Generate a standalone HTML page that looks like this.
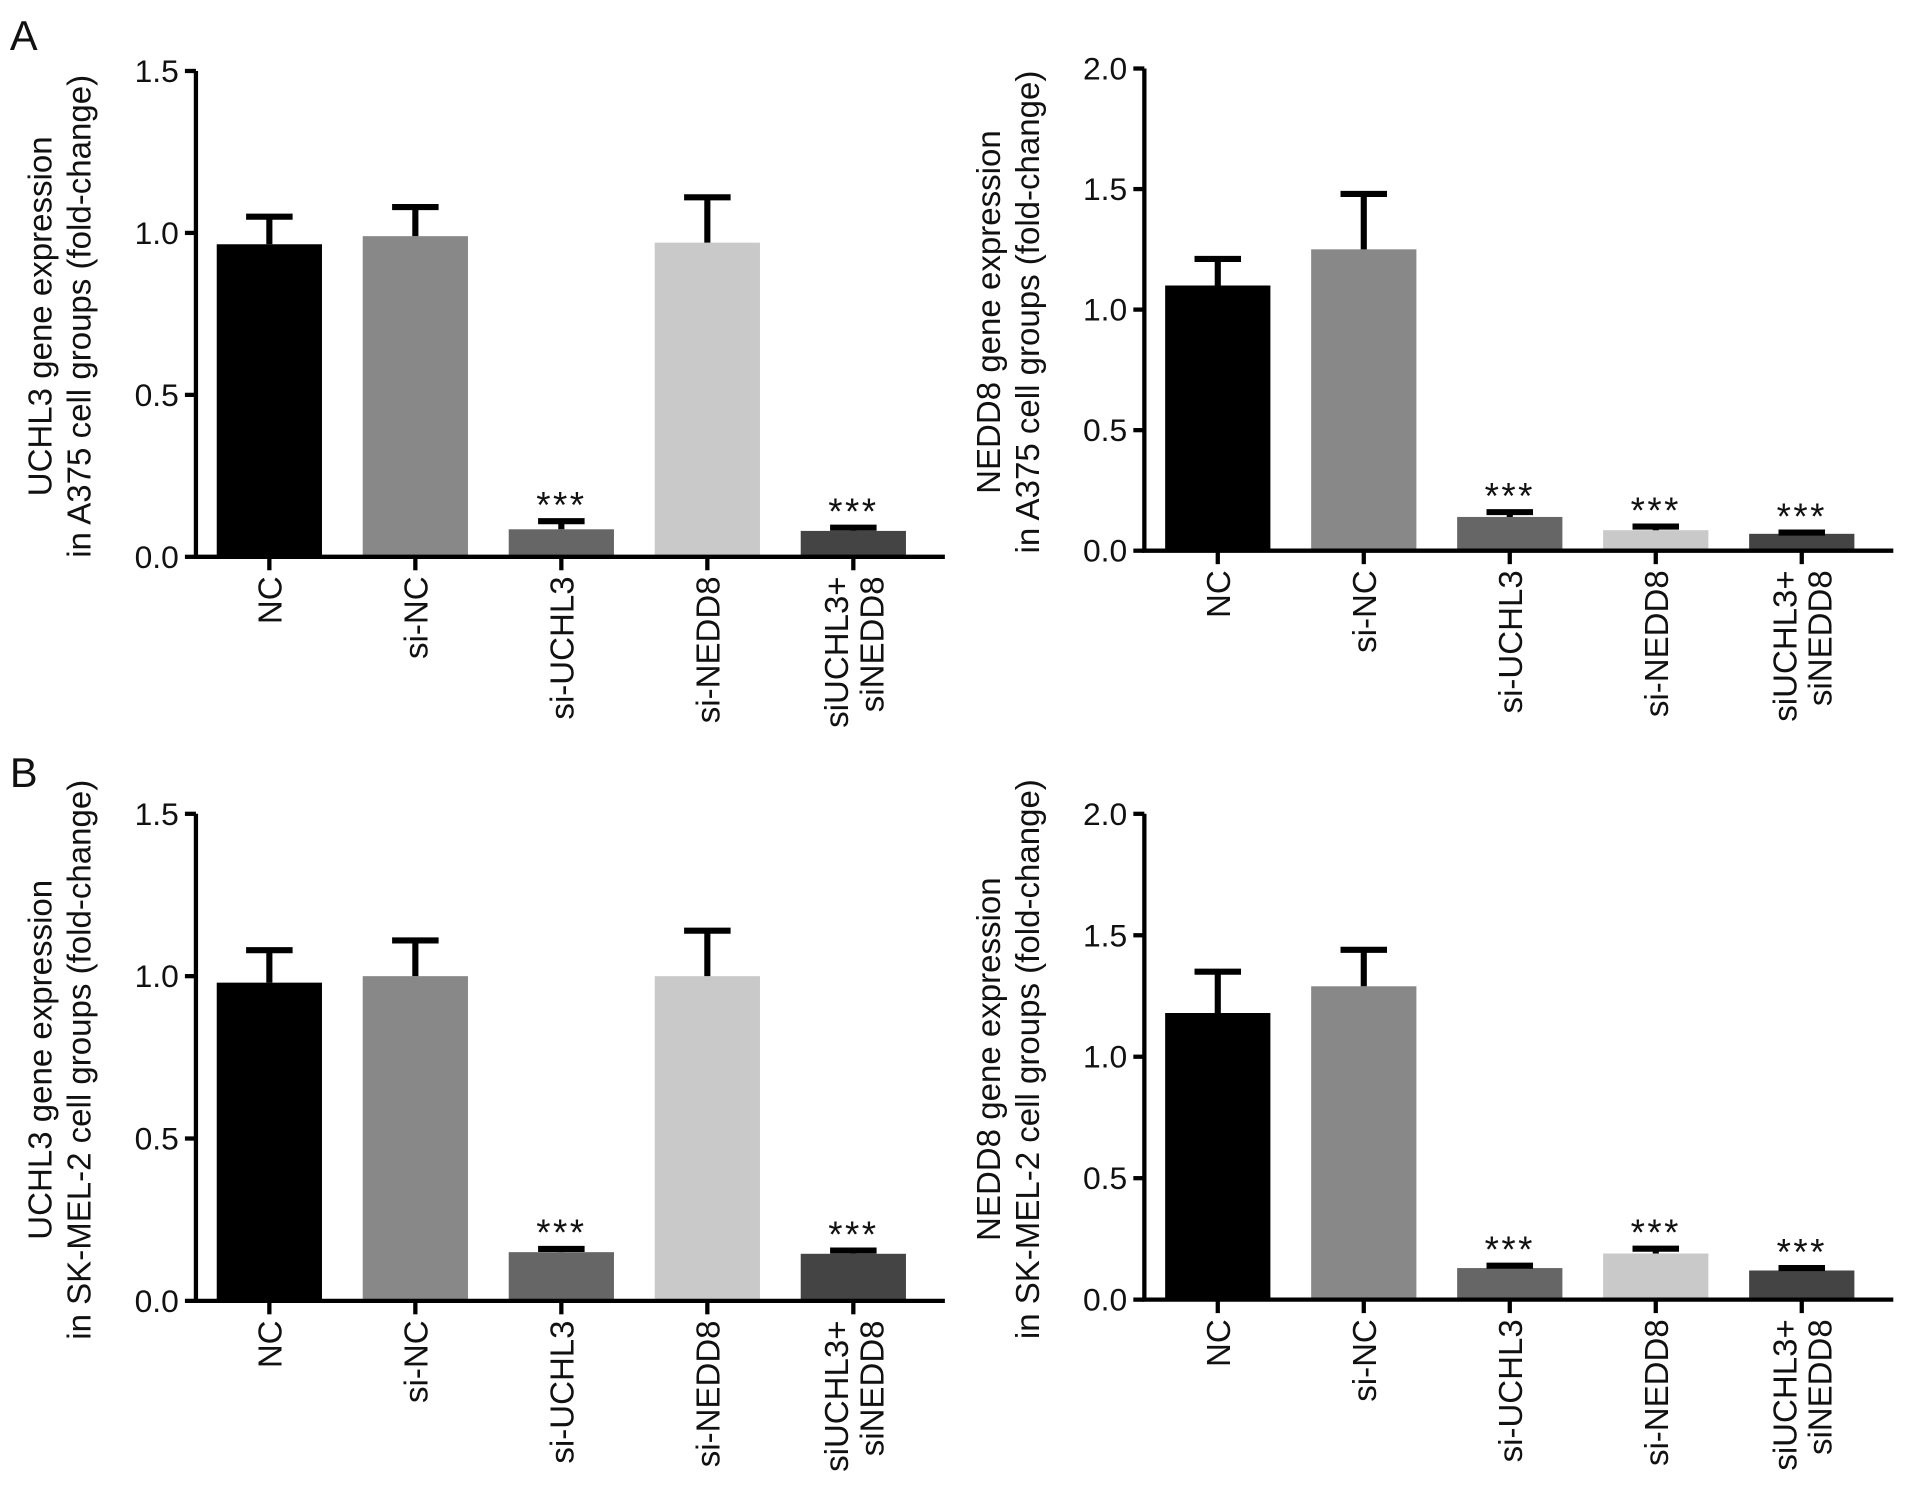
<!DOCTYPE html>
<html><head><meta charset="utf-8"><style>
html,body{margin:0;padding:0;background:#fff}
svg{display:block}
text{font-family:"Liberation Sans",Arial,sans-serif;fill:#111}
</style></head><body>
<svg id="fig" width="1913" height="1493" viewBox="0 0 1563 1220" xmlns="http://www.w3.org/2000/svg">
<text x="8" y="41" font-size="34">A</text>
<text x="8" y="643" font-size="34">B</text>
</svg>
<script>
const categories = ["NC","si-NC","si-UCHL3","si-NEDD8","siUCHL3+\nsiNEDD8"];
const colors = ["#000000","#888888","#666666","#c9c9c9","#444444"];
const aUchl3Values = [0.965, 0.99, 0.085, 0.97, 0.08];
const aUchl3Errors = [1.05, 1.08, 0.11, 1.11, 0.09];
const aNedd8Values = [1.10, 1.25, 0.14, 0.085, 0.07];
const aNedd8Errors = [1.21, 1.48, 0.16, 0.10, 0.075];
const bUchl3Values = [0.98, 1.0, 0.15, 1.0, 0.145];
const bUchl3Errors = [1.08, 1.11, 0.16, 1.14, 0.155];
const bNedd8Values = [1.18, 1.29, 0.13, 0.19, 0.12];
const bNedd8Errors = [1.35, 1.44, 0.14, 0.21, 0.13];
const uchlTicks = [0, 0.5, 1.0, 1.5];
const neddTicks = [0, 0.5, 1.0, 1.5, 2.0];
const stars = [false, false, true, true, true];
const starsUchl = [false, false, true, false, true];

const NS = "http://www.w3.org/2000/svg";
const svg = document.getElementById("fig");
function mk(tag, attrs, parent){const e=document.createElementNS(NS,tag);for(const k in attrs)e.setAttribute(k,attrs[k]);(parent||svg).appendChild(e);return e;}

function panel(name, ax, y0, yTop, ymax, ticks, vals, errs, starFlags, title1, title2){
  const g = mk("g",{});
  
  
  const yS = v => y0 - (y0 - yTop) * v / ymax;
  const step = 119.3, bw = 86;
  const xC = i => ax + 60 + i * step;
  const xEnd = ax + 612;
  vals.forEach((v,i)=>{
    const b = mk("rect",{x:xC(i)-bw/2, y:yS(v), width:bw, height:y0-yS(v), fill:colors[i]}, g);
    
    
    const e = mk("path",{d:`M${xC(i)} ${yS(v)} V${yS(errs[i])} M${xC(i)-19} ${yS(errs[i])} H${xC(i)+19}`, stroke:"#000","stroke-width":5,fill:"none"}, g);
    
    
    if(starFlags[i]){
      const s = mk("text",{x:xC(i), y:yS(errs[i])-3, "font-size":30, "text-anchor":"middle", "letter-spacing":"2", fill:"#333"}, g);
      s.textContent = "***";
      
      
    }
    const lines = categories[i].split("\n");
    const lt = mk("text",{transform:`translate(${xC(i)},${y0+16}) rotate(-90)`, "font-size":27, "text-anchor":"end"}, g);
    
    
    lines.forEach((l,j)=>{const ts=mk("tspan",{x:0, y:(j-(lines.length-1)/2)*29+10},lt);ts.textContent=l;});
    mk("line",{x1:xC(i),x2:xC(i),y1:y0,y2:y0+11,stroke:"#000","stroke-width":3.5},g);
  });
  const axes = mk("path",{d:`M${ax} ${yTop} V${y0} H${xEnd}`, stroke:"#000","stroke-width":3.5,fill:"none"}, g);
  
  
  ticks.forEach(t=>{
    mk("line",{x1:ax-9,x2:ax,y1:yS(t),y2:yS(t),stroke:"#000","stroke-width":3.5},g);
    const tl = mk("text",{x:ax-14, y:yS(t)+9, "font-size":26, "text-anchor":"end"}, g);
    tl.textContent = t.toFixed(1);
    
    
  });
  const cy = (yTop + y0)/2 + 2;
  const yt = mk("text",{transform:`translate(${ax-118},${cy}) rotate(-90)`, "font-size":27, "text-anchor":"middle"}, g);
  
  
  const t1 = mk("tspan",{x:0,y:0},yt); t1.textContent = title1;
  const t2 = mk("tspan",{x:0,y:32},yt); t2.textContent = title2;
}

panel("chart-a-uchl3", 160, 455, 58, 1.5, uchlTicks, aUchl3Values, aUchl3Errors, starsUchl,
  "UCHL3 gene expression", "in A375 cell groups (fold-change)");
panel("chart-a-nedd8", 935, 450, 56, 2.0, neddTicks, aNedd8Values, aNedd8Errors, stars,
  "NEDD8 gene expression", "in A375 cell groups (fold-change)");
panel("chart-b-uchl3", 160, 1063, 665, 1.5, uchlTicks, bUchl3Values, bUchl3Errors, starsUchl,
  "UCHL3 gene expression", "in SK-MEL-2 cell groups (fold-change)");
panel("chart-b-nedd8", 935, 1062, 665, 2.0, neddTicks, bNedd8Values, bNedd8Errors, stars,
  "NEDD8 gene expression", "in SK-MEL-2 cell groups (fold-change)");
</script>
</body></html>
